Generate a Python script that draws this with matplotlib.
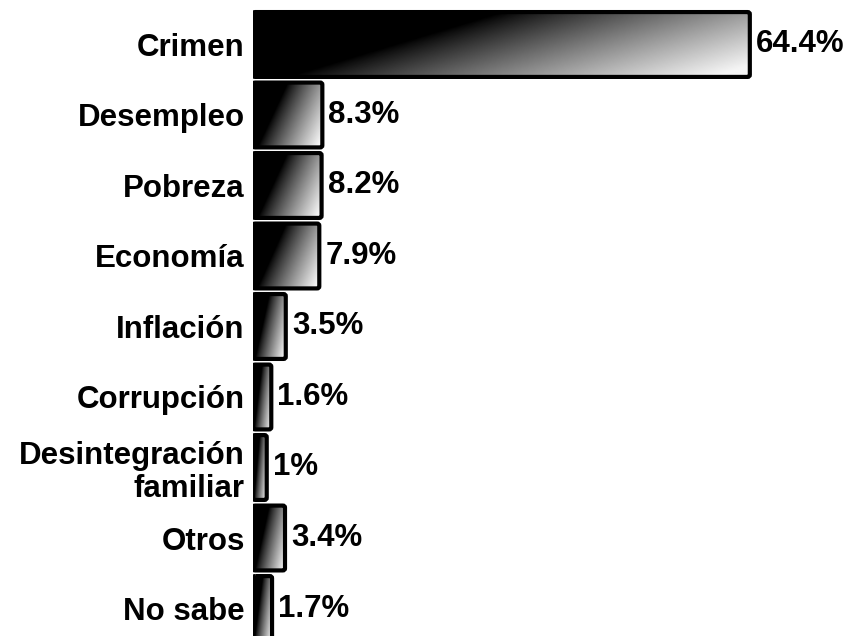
import numpy as np
import matplotlib
matplotlib.use("Agg")
import matplotlib.pyplot as plt
from matplotlib.patches import FancyBboxPatch

categories = ["Crimen", "Desempleo", "Pobreza", "Economía", "Inflación",
              "Corrupción", "Desintegración\nfamiliar", "Otros", "No sabe"]
values = [64.4, 8.3, 8.2, 7.9, 3.5, 1.6, 1.0, 3.4, 1.7]
value_labels = ["64.4%", "8.3%", "8.2%", "7.9%", "3.5%", "1.6%", "1%", "3.4%", "1.7%"]

plt.rcParams['font.family'] = ['Liberation Sans', 'DejaVu Sans']

px_per_pct = 7.62
edge_pad = 0.8  # thick frame makes every bar look a bit wider

fig = plt.figure(figsize=(8.47, 6.36), dpi=100)
ax = fig.add_axes([253 / 847, 0, 594 / 847, 1])

bar_h = 0.92
# gradient: dark on the left / top, light towards the bottom right
gx, gy = np.meshgrid(np.linspace(0, 1, 200), np.linspace(0, 1, 60))
t = np.clip((0.7 * gx + 0.3 * gy - 0.35) / 0.6, 0, 1)
grad = t ** 0.85 * 0.96

for i, v in enumerate(values):
    y0 = i - bar_h / 2
    w = v + edge_pad
    patch = FancyBboxPatch((0, y0), w, bar_h, boxstyle="round,pad=0,rounding_size=0.3",
                           mutation_aspect=0.1, facecolor="none", edgecolor="black",
                           linewidth=3, zorder=3)
    ax.add_patch(patch)
    im = ax.imshow(grad, cmap="gray", vmin=0, vmax=1, extent=[0, w, i + bar_h / 2, y0],
                   aspect="auto", zorder=2, interpolation="bilinear")
    im.set_clip_path(patch)
    ax.text(w + 0.8, i, value_labels[i], va="center", ha="left",
            fontsize=22.5, fontweight="bold")

ax.set_xlim(0, 594 / px_per_pct)
ax.set_ylim(8.39, -0.631)
ax.set_yticks(range(len(categories)))
ax.set_yticklabels(categories, fontsize=22.5, fontweight="bold", linespacing=1.15)
ax.tick_params(axis="y", length=0, pad=6)
ax.set_xticks([])
for s in ax.spines.values():
    s.set_visible(False)

fig.savefig("out.png", dpi=100)
